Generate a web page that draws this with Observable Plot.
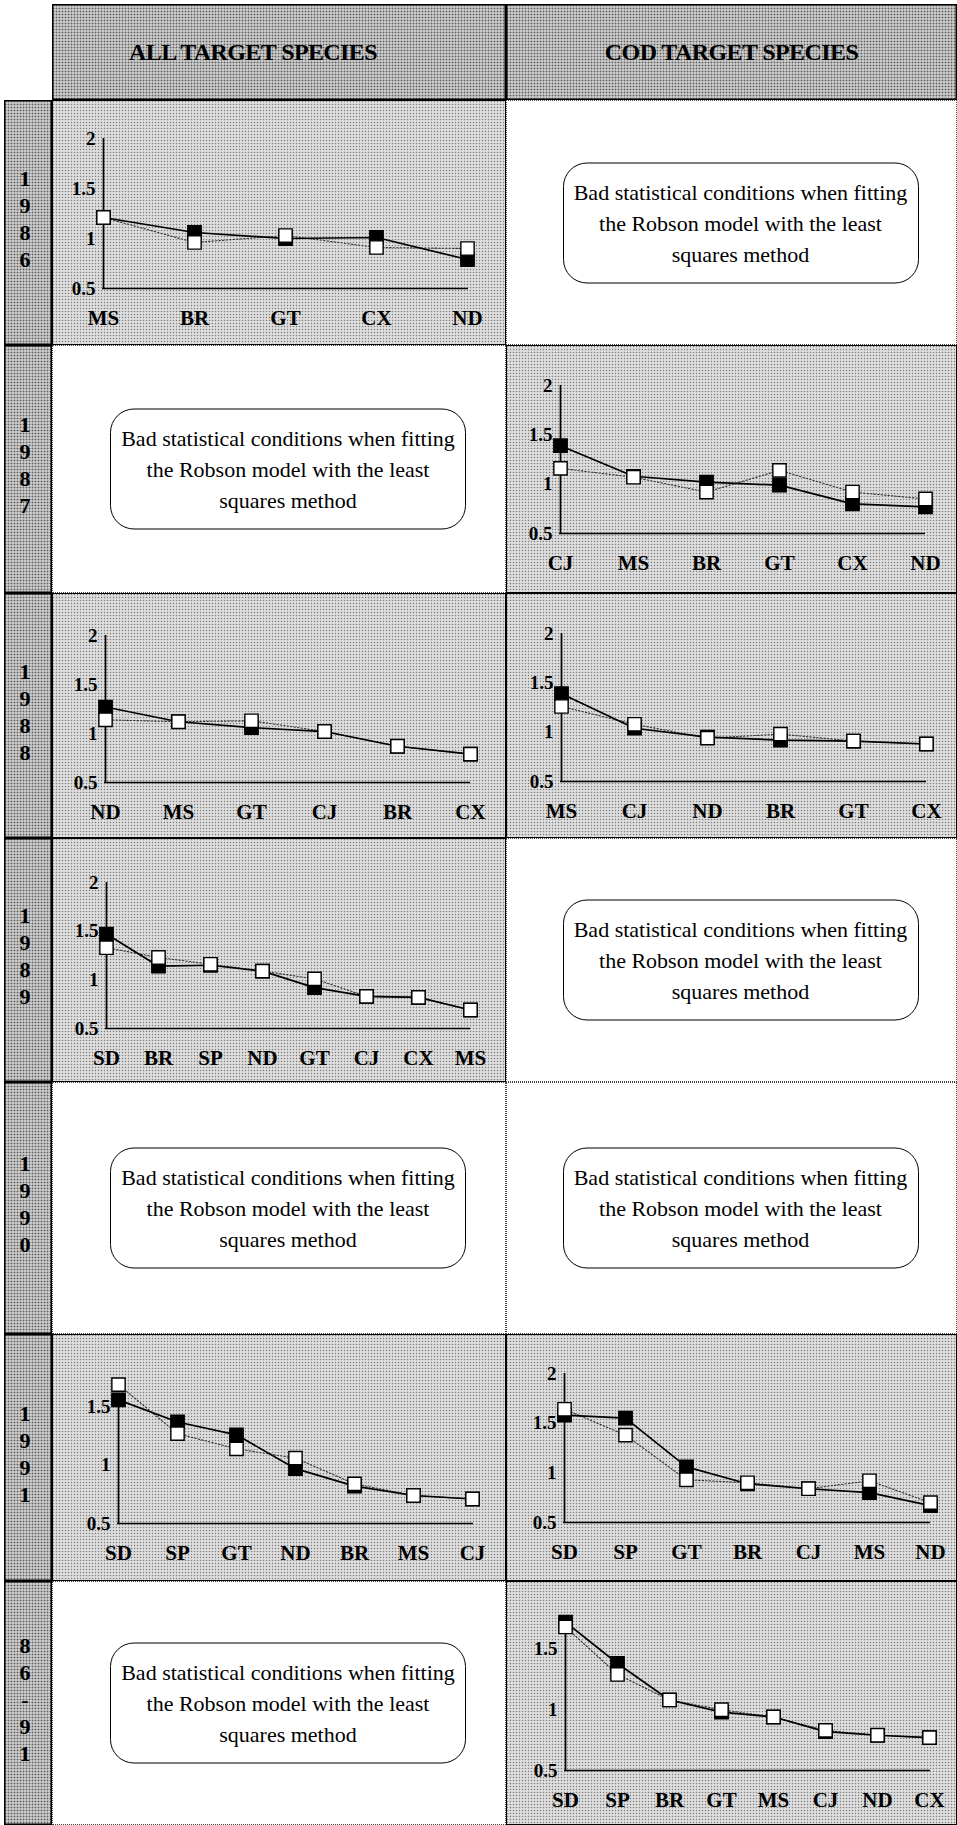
<!DOCTYPE html>
<html>
<head>
<meta charset="utf-8">
<script src="https://cdn.jsdelivr.net/npm/d3@7"></script>
<script src="https://cdn.jsdelivr.net/npm/@observablehq/plot@0.6"></script>
<style>
  html, body { margin: 0; padding: 0; background: #fff; }
  body { width: 957px; height: 1825px; position: relative; overflow: hidden;
         font-family: "Liberation Serif", "Times New Roman", serif; }
  .cell { position: absolute; box-sizing: border-box; }
  .stip { background-color: #dedede;
          background-image: radial-gradient(circle, #7c7c7c 0.75px, transparent 1.05px);
          background-size: 3px 3px; box-shadow: inset 0 0 0 1px #000; }
  .stipDark { background-color: #c9c9c9;
          background-image: radial-gradient(circle, #5e5e5e 0.8px, transparent 1.1px);
          background-size: 3px 3px; box-shadow: inset 0 0 0 1.5px #000; }
  .white { background: #fff; outline: 1px dotted #444; outline-offset: -1px; }
  .hdr { display: flex; align-items: center; justify-content: center;
         font-weight: bold; font-size: 24px; letter-spacing: -0.6px; color: #000; }
  .hdr span { position: relative; }
  .year { display: flex; flex-direction: column; align-items: center; justify-content: center;
          font-weight: bold; font-size: 22px; line-height: 27px; padding: 0 6px 8px 0; }
  .box { position: absolute; left: calc(50% + 9px); top: 50%; transform: translate(-50%, -50%);
         width: 356px; height: 121px; box-sizing: border-box; background: #fff;
         border: 1.5px solid #000; border-radius: 24px; display: flex; flex-direction: column;
         align-items: center; justify-content: center; font-size: 22px; line-height: 31px;
         text-align: center; white-space: nowrap; letter-spacing: 0px; }
  .cell svg { display: block; }
</style>
</head>
<body>
<script>
// ---------- data ----------
const columnTitles = ["ALL TARGET SPECIES", "COD TARGET SPECIES"];
const rowLabels = ["1986", "1987", "1988", "1989", "1990", "1991", "86-91"];
const badText = ["Bad statistical conditions when fitting", "the Robson model with the least", "squares method"];
const yTickValues = [0.5, 1, 1.5, 2];

const cats1986All = ["MS", "BR", "GT", "CX", "ND"];
const filled1986All = [1.21, 1.06, 1.00, 1.01, 0.79];
const open1986All   = [1.21, 0.96, 1.03, 0.91, 0.90];

const cats1987Cod = ["CJ", "MS", "BR", "GT", "CX", "ND"];
const filled1987Cod = [1.39, 1.08, 1.02, 0.99, 0.80, 0.77];
const open1987Cod   = [1.16, 1.07, 0.92, 1.14, 0.92, 0.85];

const cats1988All = ["ND", "MS", "GT", "CJ", "BR", "CX"];
const filled1988All = [1.27, 1.12, 1.06, 1.02, 0.87, 0.79];
const open1988All   = [1.14, 1.12, 1.13, 1.02, 0.87, 0.79];

const cats1988Cod = ["MS", "CJ", "ND", "BR", "GT", "CX"];
const filled1988Cod = [1.39, 1.04, 0.95, 0.92, 0.91, 0.88];
const open1988Cod   = [1.26, 1.08, 0.94, 0.98, 0.91, 0.88];

const cats1989All = ["SD", "BR", "SP", "ND", "GT", "CJ", "CX", "MS"];
const filled1989All = [1.47, 1.14, 1.15, 1.09, 0.92, 0.83, 0.82, 0.69];
const open1989All   = [1.33, 1.23, 1.16, 1.09, 1.01, 0.83, 0.82, 0.69];

const cats1991All = ["SD", "SP", "GT", "ND", "BR", "MS", "CJ"];
const filled1991All = [1.56, 1.37, 1.26, 0.97, 0.82, 0.74, 0.71];
const open1991All   = [1.69, 1.27, 1.14, 1.06, 0.84, 0.74, 0.71];

const cats1991Cod = ["SD", "SP", "GT", "BR", "CJ", "MS", "ND"];
const filled1991Cod = [1.58, 1.55, 1.06, 0.89, 0.84, 0.80, 0.67];
const open1991Cod   = [1.64, 1.38, 0.93, 0.90, 0.84, 0.92, 0.70];

const cats8691Cod = ["SD", "SP", "BR", "GT", "MS", "CJ", "ND", "CX"];
const filled8691Cod = [1.72, 1.38, 1.08, 0.98, 0.94, 0.82, 0.79, 0.77];
const open8691Cod   = [1.68, 1.29, 1.08, 1.00, 0.94, 0.83, 0.79, 0.77];

// ---------- layout ----------
const colX = [4, 52, 506, 957];
const rowY = [100, 345, 593, 838, 1082, 1334, 1581, 1825];
const headerTop = 4;
const headerShift = [-26, 0];

// panel content per row: [all, cod]; null = bad statistical conditions
const panels = [
  [{cats: cats1986All, a: filled1986All, b: open1986All, ml: 50, mr: 38, mt: 38, mb: 57, top: 2, axisTop: 2}, null],
  [null, {cats: cats1987Cod, a: filled1987Cod, b: open1987Cod, ml: 53, mr: 32, mt: 40, mb: 60, top: 2, axisTop: 2}],
  [{cats: cats1988All, a: filled1988All, b: open1988All, ml: 52, mr: 36, mt: 42, mb: 56, top: 2, axisTop: 2},
   {cats: cats1988Cod, a: filled1988Cod, b: open1988Cod, ml: 54, mr: 31, mt: 40, mb: 57, top: 2, axisTop: 2}],
  [{cats: cats1989All, a: filled1989All, b: open1989All, ml: 53, mr: 36, mt: 44, mb: 54, top: 2, axisTop: 2}, null],
  [null, null],
  [{cats: cats1991All, a: filled1991All, b: open1991All, ml: 65, mr: 33, mt: 49, mb: 58, top: 1.7, axisTop: 1.56},
   {cats: cats1991Cod, a: filled1991Cod, b: open1991Cod, ml: 57, mr: 27, mt: 39, mb: 59, top: 2, axisTop: 2}],
  [null, {cats: cats8691Cod, a: filled8691Cod, b: open8691Cod, ml: 58, mr: 27, mt: 37, mb: 55, top: 1.75, axisTop: 1.75}]
];

function makeCell(x, y, w, h, cls) {
  const d = document.createElement("div");
  d.className = "cell " + cls;
  d.style.left = x + "px"; d.style.top = y + "px";
  d.style.width = w + "px"; d.style.height = h + "px";
  document.body.appendChild(d);
  return d;
}

function panel(P, w, h) {
  const A = P.cats.map((c, i) => ({cat: c, v: P.a[i]}));
  const B = P.cats.map((c, i) => ({cat: c, v: P.b[i]}));
  const ticks = yTickValues.filter(t => t <= P.top + 1e-9);
  const first = P.cats[0];
  const font = "Liberation Serif, Times New Roman, serif";
  return Plot.plot({
    width: w, height: h,
    marginLeft: P.ml, marginRight: P.mr, marginTop: P.mt, marginBottom: P.mb,
    style: {background: "transparent", fontFamily: font, overflow: "visible"},
    x: {type: "point", domain: P.cats, padding: 0, axis: null},
    y: {domain: [0.5, P.top], axis: null},
    marks: [
      Plot.ruleY([0.5], {stroke: "#000", strokeWidth: 1.7}),
      Plot.ruleX([first], {x: d => d, y1: 0.5, y2: P.axisTop, stroke: "#000", strokeWidth: 1.7}),
      Plot.text(P.cats, {x: d => d, y: 0.5, dy: 30, text: d => d, fontSize: 21, fontWeight: "bold", fill: "#000"}),
      Plot.text(ticks, {x: () => first, y: d => d, dx: -8, text: d => String(d), textAnchor: "end",
                        fontSize: 19, fontWeight: "bold", fill: "#000"}),
      Plot.line(B, {x: "cat", y: "v", stroke: "#333", strokeWidth: 1.1, strokeDasharray: "1.5,2"}),
      Plot.line(A, {x: "cat", y: "v", stroke: "#000", strokeWidth: 1.7}),
      Plot.dot(A, {x: "cat", y: "v", symbol: "square", r: 7.5, fill: "#000", stroke: "#000"}),
      Plot.dot(B, {x: "cat", y: "v", symbol: "square", r: 7.5, fill: "#fff", stroke: "#000", strokeWidth: 1.4})
    ]
  });
}

// header
columnTitles.forEach((t, j) => {
  const c = makeCell(colX[j + 1], headerTop, colX[j + 2] - colX[j + 1], rowY[0] - headerTop, "stipDark hdr");
  const s = document.createElement("span");
  s.textContent = t;
  s.style.left = headerShift[j] + "px";
  c.appendChild(s);
});

// rows
rowLabels.forEach((lab, i) => {
  const y = rowY[i], h = rowY[i + 1] - rowY[i];
  const yc = makeCell(colX[0], y, colX[1] - colX[0], h, "stipDark year");
  for (const ch of lab) {
    const s = document.createElement("div");
    s.textContent = ch;
    yc.appendChild(s);
  }
  for (let j = 0; j < 2; j++) {
    const x = colX[j + 1], w = colX[j + 2] - colX[j + 1];
    const P = panels[i][j];
    if (P) {
      const c = makeCell(x, y, w, h, "stip");
      c.appendChild(panel(P, w, h));
    } else {
      const c = makeCell(x, y, w, h, "white");
      const b = document.createElement("div");
      b.className = "box";
      badText.forEach(line => {
        const l = document.createElement("div");
        l.textContent = line;
        b.appendChild(l);
      });
      c.appendChild(b);
    }
  }
});
</script>
</body>
</html>
